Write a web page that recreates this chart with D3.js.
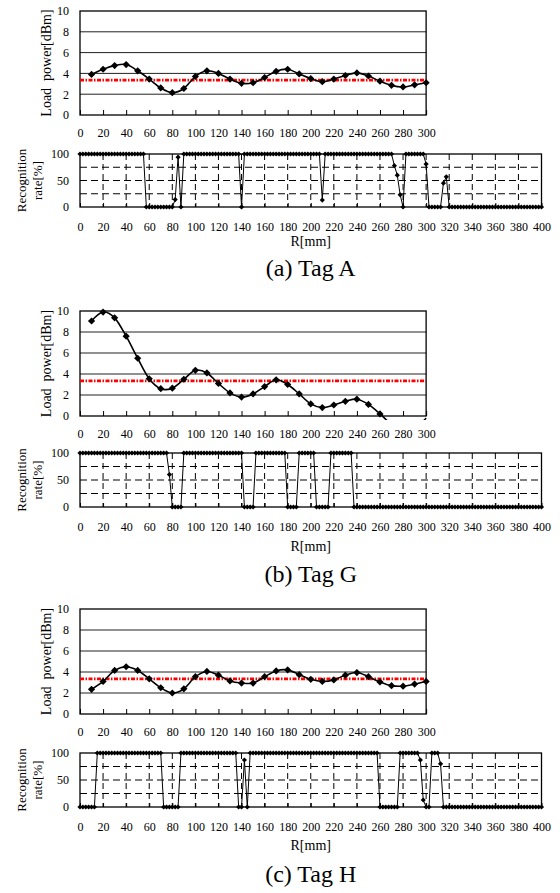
<!DOCTYPE html>
<html lang="en">
<head>
<meta charset="UTF-8">
<title>Load power and recognition rate</title>
<script src="https://d3js.org/d3.v7.min.js"></script>
<style>
    body { margin: 0; background: #fff; }
    svg text { font-family: "Liberation Serif", "Times New Roman", "DejaVu Serif", serif; fill: #000; }
</style>
</head>
<body>
<div id="chart"></div>
<script>
    // load power, measured every 10 mm
    var loadPos = [10, 20, 30, 40, 50, 60, 70, 80, 90, 100, 110, 120, 130, 140, 150,
                   160, 170, 180, 190, 200, 210, 220, 230, 240, 250, 260, 270, 280, 290, 300];
    var loadA = [3.9, 4.4, 4.75, 4.85, 4.25, 3.45, 2.6, 2.15, 2.55, 3.7, 4.25, 4.0, 3.45, 3.05, 3.1,
                 3.6, 4.2, 4.4, 3.95, 3.5, 3.2, 3.45, 3.8, 4.05, 3.75, 3.25, 2.85, 2.7, 2.9, 3.1];
    var loadG = [9.05, 9.9, 9.35, 7.6, 5.5, 3.55, 2.6, 2.65, 3.5, 4.35, 4.1, 3.1, 2.2, 1.8, 2.1,
                 2.8, 3.45, 3.0, 2.1, 1.15, 0.8, 1.05, 1.4, 1.6, 1.1, 0.2, -0.8, -1.5, -1.2, -0.2];
    var loadH = [2.35, 3.1, 4.15, 4.5, 4.15, 3.35, 2.5, 2.0, 2.4, 3.55, 4.05, 3.7, 3.15, 2.95, 2.95,
                 3.55, 4.1, 4.2, 3.75, 3.3, 3.1, 3.25, 3.7, 3.95, 3.55, 3.05, 2.7, 2.65, 2.85, 3.1];
    var threshold = 3.35;

    // recognition rate, measured every 2.5 mm
    var ratePos = [0, 2.5, 5, 7.5, 10, 12.5, 15, 17.5, 20, 22.5, 25, 27.5, 30, 32.5, 35, 37.5, 40, 42.5, 45, 47.5,
                   50, 52.5, 55, 57.5, 60, 62.5, 65, 67.5, 70, 72.5, 75, 77.5, 80, 82.5, 85, 87.5, 90, 92.5, 95, 97.5,
                   100, 102.5, 105, 107.5, 110, 112.5, 115, 117.5, 120, 122.5, 125, 127.5, 130, 132.5, 135, 137.5, 140, 142.5, 145, 147.5,
                   150, 152.5, 155, 157.5, 160, 162.5, 165, 167.5, 170, 172.5, 175, 177.5, 180, 182.5, 185, 187.5, 190, 192.5, 195, 197.5,
                   200, 202.5, 205, 207.5, 210, 212.5, 215, 217.5, 220, 222.5, 225, 227.5, 230, 232.5, 235, 237.5, 240, 242.5, 245, 247.5,
                   250, 252.5, 255, 257.5, 260, 262.5, 265, 267.5, 270, 272.5, 275, 277.5, 280, 282.5, 285, 287.5, 290, 292.5, 295, 297.5,
                   300, 302.5, 305, 307.5, 310, 312.5, 315, 317.5, 320, 322.5, 325, 327.5, 330, 332.5, 335, 337.5, 340, 342.5, 345, 347.5,
                   350, 352.5, 355, 357.5, 360, 362.5, 365, 367.5, 370, 372.5, 375, 377.5, 380, 382.5, 385, 387.5, 390, 392.5, 395, 397.5,
                   400];
    var rateA = [100, 100, 100, 100, 100, 100, 100, 100, 100, 100, 100, 100, 100, 100, 100, 100, 100, 100, 100, 100,
                 100, 100, 100, 0, 0, 0, 0, 0, 0, 0, 0, 0, 0, 14, 94, 0, 100, 100, 100, 100,
                 100, 100, 100, 100, 100, 100, 100, 100, 100, 100, 100, 100, 100, 100, 100, 100, 0, 100, 100, 100,
                 100, 100, 100, 100, 100, 100, 100, 100, 100, 100, 100, 100, 100, 100, 100, 100, 100, 100, 100, 100,
                 100, 100, 100, 100, 13, 100, 100, 100, 100, 100, 100, 100, 100, 100, 100, 100, 100, 100, 100, 100,
                 100, 100, 100, 100, 100, 100, 100, 100, 100, 78, 60, 23, 0, 100, 100, 100, 100, 100, 100, 100,
                 81, 0, 0, 0, 0, 0, 45, 57, 0, 0, 0, 0, 0, 0, 0, 0, 0, 0, 0, 0,
                 0, 0, 0, 0, 0, 0, 0, 0, 0, 0, 0, 0, 0, 0, 0, 0, 0, 0, 0, 0,
                 0];
    var rateG = [100, 100, 100, 100, 100, 100, 100, 100, 100, 100, 100, 100, 100, 100, 100, 100, 100, 100, 100, 100,
                 100, 100, 100, 100, 100, 100, 100, 100, 100, 100, 100, 60, 0, 0, 0, 0, 100, 100, 100, 100,
                 100, 100, 100, 100, 100, 100, 100, 100, 100, 100, 100, 100, 100, 100, 100, 100, 100, 0, 0, 0,
                 0, 100, 100, 100, 100, 100, 100, 100, 100, 100, 100, 100, 0, 0, 0, 0, 100, 100, 100, 100,
                 100, 100, 0, 0, 0, 0, 0, 100, 100, 100, 100, 100, 100, 100, 100, 0, 0, 0, 0, 0,
                 0, 0, 0, 0, 0, 0, 0, 0, 0, 0, 0, 0, 0, 0, 0, 0, 0, 0, 0, 0,
                 0, 0, 0, 0, 0, 0, 0, 0, 0, 0, 0, 0, 0, 0, 0, 0, 0, 0, 0, 0,
                 0, 0, 0, 0, 0, 0, 0, 0, 0, 0, 0, 0, 0, 0, 0, 0, 0, 0, 0, 0,
                 0];
    var rateH = [0, 0, 0, 0, 0, 0, 100, 100, 100, 100, 100, 100, 100, 100, 100, 100, 100, 100, 100, 100,
                 100, 100, 100, 100, 100, 100, 100, 100, 100, 0, 0, 0, 0, 0, 0, 100, 100, 100, 100, 100,
                 100, 100, 100, 100, 100, 100, 100, 100, 100, 100, 100, 100, 100, 100, 100, 0, 0, 87, 0, 100,
                 100, 100, 100, 100, 100, 100, 100, 100, 100, 100, 100, 100, 100, 100, 100, 100, 100, 100, 100, 100,
                 100, 100, 100, 100, 100, 100, 100, 100, 100, 100, 100, 100, 100, 100, 100, 100, 100, 100, 100, 100,
                 100, 100, 100, 100, 0, 0, 0, 0, 0, 0, 0, 100, 100, 100, 100, 100, 100, 100, 87, 13,
                 0, 0, 100, 100, 100, 80, 0, 0, 0, 0, 0, 0, 0, 0, 0, 0, 0, 0, 0, 0,
                 0, 0, 0, 0, 0, 0, 0, 0, 0, 0, 0, 0, 0, 0, 0, 0, 0, 0, 0, 0,
                 0];

    var loadTicks = [0, 2, 4, 6, 8, 10];
    var rateTicks = [0, 50, 100];
    var rateGrid = [25, 50, 75];
    var rTicksTop = [0, 20, 40, 60, 80, 100, 120, 140, 160, 180, 200, 220, 240, 260, 280, 300];
    var rTicksBottom = [0, 20, 40, 60, 80, 100, 120, 140, 160, 180, 200, 220, 240, 260, 280, 300, 320, 340, 360, 380, 400];
    var captions = ["(a) Tag A", "(b) Tag G", "(c) Tag H"];

    var w = 560;
    var h = 893;
    var serif = "'Liberation Serif', 'Times New Roman', 'DejaVu Serif', serif";
    var svg = d3.select("#chart").append("svg")
        .attr("width", w)
        .attr("height", h)
        .style("font-family", serif);

    // vertical positions of each panel
    var panels = [
        { load: loadA, rate: rateA, top: [11, 115], bot: [154, 207], capY: 276, rmmY: 246 },
        { load: loadG, rate: rateG, top: [311, 416], bot: [453, 507], capY: 582, rmmY: 551 },
        { load: loadH, rate: rateH, top: [609, 714], bot: [753, 807], capY: 882, rmmY: 850 }
    ];

    var x = d3.scaleLinear().domain([0, 400]).range([80, 541.5]);
    var xTop = d3.scaleLinear().domain([0, 300]).range([80, x(300)]);

    function diamond(r) {
        return "M0," + (-r) + "L" + r + ",0L0," + r + "L" + (-r) + ",0Z";
    }

    function styleAxis(g) {
        g.select(".domain").remove();
        g.attr("font-family", serif).attr("font-size", 12);
        g.selectAll("text").style("font-family", serif);
        g.selectAll("line").attr("stroke", "#000");
    }

    panels.forEach(function(p, i) {
        var g = svg.append("g");

        // ---- load power chart ----
        var y = d3.scaleLinear().domain([0, 10]).range([p.top[1], p.top[0]]);

        g.selectAll(".hgrid")
            .data(loadTicks.slice(1, 5))
            .enter()
            .append("line")
            .attr("x1", xTop(0))
            .attr("x2", xTop(300))
            .attr("y1", function(d) { return y(d); })
            .attr("y2", function(d) { return y(d); })
            .attr("stroke", "#222")
            .attr("stroke-width", 1);

        g.append("g")
            .attr("transform", "translate(0," + y(0) + ")")
            .call(d3.axisBottom(xTop).tickValues(rTicksTop).tickSizeInner(-5).tickSizeOuter(0).tickPadding(13))
            .call(styleAxis);

        g.append("g")
            .attr("transform", "translate(" + xTop(0) + ",0)")
            .call(d3.axisLeft(y).tickValues(loadTicks).tickSize(0).tickPadding(11))
            .call(styleAxis);

        g.append("rect")
            .attr("x", xTop(0))
            .attr("y", y(10))
            .attr("width", xTop(300) - xTop(0))
            .attr("height", y(0) - y(10))
            .attr("fill", "none")
            .attr("stroke", "#000")
            .attr("stroke-width", 1.3);

        g.append("line")
            .attr("x1", xTop(0))
            .attr("x2", xTop(300))
            .attr("y1", y(threshold))
            .attr("y2", y(threshold))
            .attr("stroke", "#ff0000")
            .attr("stroke-width", 2.6)
            .attr("stroke-dasharray", "4,1.5,1.5,1.5");

        g.append("clipPath")
            .attr("id", "clip" + i)
            .append("rect")
            .attr("x", xTop(0))
            .attr("y", y(10))
            .attr("width", xTop(300) - xTop(0) + 1)
            .attr("height", y(0) - y(10) + 4);

        var pts = loadPos.map(function(d, j) { return [d, p.load[j]]; });

        var line = d3.line()
            .x(function(d) { return xTop(d[0]); })
            .y(function(d) { return y(d[1]); })
            .curve(d3.curveCardinal.tension(0));

        g.append("path")
            .datum(pts)
            .attr("clip-path", "url(#clip" + i + ")")
            .attr("d", line)
            .attr("fill", "none")
            .attr("stroke", "#000")
            .attr("stroke-width", 1.6);

        g.selectAll(".mk")
            .data(pts.filter(function(d) { return d[1] >= 0; }))
            .enter()
            .append("path")
            .attr("transform", function(d) { return "translate(" + xTop(d[0]) + "," + y(d[1]) + ")"; })
            .attr("d", diamond(3.6))
            .attr("fill", "#000");

        g.append("text")
            .attr("transform", "translate(51," + (y(5)) + ") rotate(-90)")
            .attr("text-anchor", "middle")
            .attr("font-size", 14)
            .style("white-space", "pre")
            .text("Load  power[dBm]");

        // ---- recognition rate chart ----
        var yr = d3.scaleLinear().domain([0, 100]).range([p.bot[1], p.bot[0]]);

        g.selectAll(".rgrid")
            .data(rateGrid)
            .enter()
            .append("line")
            .attr("x1", x(0))
            .attr("x2", x(400))
            .attr("y1", function(d) { return yr(d); })
            .attr("y2", function(d) { return yr(d); })
            .attr("stroke", "#000")
            .attr("stroke-dasharray", "7,4");

        g.selectAll(".vgrid")
            .data(rTicksBottom.slice(1, 20))
            .enter()
            .append("line")
            .attr("x1", function(d) { return x(d); })
            .attr("x2", function(d) { return x(d); })
            .attr("y1", yr(100))
            .attr("y2", yr(0))
            .attr("stroke", "#000")
            .attr("stroke-dasharray", "6,4");

        g.append("g")
            .attr("transform", "translate(0," + yr(0) + ")")
            .call(d3.axisBottom(x).tickValues(rTicksBottom).tickSizeInner(-4).tickSizeOuter(0).tickPadding(15))
            .call(styleAxis);

        g.append("g")
            .attr("transform", "translate(" + x(0) + ",0)")
            .call(d3.axisLeft(yr).tickValues(rateTicks).tickSize(0).tickPadding(11))
            .call(styleAxis);

        g.append("rect")
            .attr("x", x(0))
            .attr("y", yr(100))
            .attr("width", x(400) - x(0))
            .attr("height", yr(0) - yr(100))
            .attr("fill", "none")
            .attr("stroke", "#000")
            .attr("stroke-width", 1.3);

        var rpts = ratePos.map(function(d, j) { return [d, p.rate[j]]; });

        g.append("path")
            .datum(rpts)
            .attr("d", d3.line()
                .x(function(d) { return x(d[0]); })
                .y(function(d) { return yr(d[1]); }))
            .attr("fill", "none")
            .attr("stroke", "#000")
            .attr("stroke-width", 1);

        g.selectAll(".rmk")
            .data(rpts)
            .enter()
            .append("path")
            .attr("transform", function(d) { return "translate(" + x(d[0]) + "," + yr(d[1]) + ")"; })
            .attr("d", diamond(2.6))
            .attr("fill", "#000");

        var yt = g.append("text")
            .attr("transform", "translate(0," + yr(50) + ") rotate(-90)")
            .attr("text-anchor", "middle")
            .attr("font-size", 13);
        yt.append("tspan").attr("x", 0).attr("y", 26).text("Recognition");
        yt.append("tspan").attr("x", 0).attr("y", 42).text("rate[%]");

        g.append("text")
            .attr("x", (x(0) + x(400)) / 2)
            .attr("y", p.rmmY)
            .attr("text-anchor", "middle")
            .attr("font-size", 14)
            .text("R[mm]");

        g.append("text")
            .attr("x", (x(0) + x(400)) / 2)
            .attr("y", p.capY)
            .attr("text-anchor", "middle")
            .attr("font-size", 24)
            .text(captions[i]);
    });
</script>
</body>
</html>
